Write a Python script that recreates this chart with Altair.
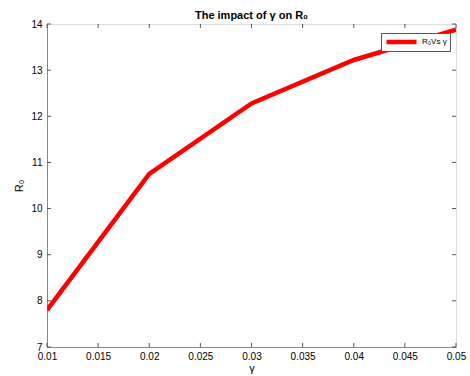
import altair as alt
import pandas as pd

gamma = [0.01, 0.02, 0.03, 0.04, 0.05]
r0 = [7.80, 10.75, 12.28, 13.22, 13.88]
series_name = "R₀Vs γ"
x_ticks = [0.01, 0.015, 0.02, 0.025, 0.03, 0.035, 0.04, 0.045, 0.05]
y_ticks = [7, 8, 9, 10, 11, 12, 13, 14]

W, H = 409, 323
AX = "#555555"
FONT = "Liberation Sans"

df = pd.DataFrame({"gamma": gamma, "r0": r0, "series": [series_name] * len(gamma)})
xt = pd.DataFrame({"v": x_ticks})
yt = pd.DataFrame({"v": y_ticks})

xs = alt.Scale(domain=[0.01, 0.05], nice=False, zero=False)
ys = alt.Scale(domain=[7, 14], nice=False, zero=False)

line = alt.Chart(df).mark_line(strokeWidth=4.5, clip=True).encode(
    x=alt.X("gamma:Q", scale=xs, title="γ",
            axis=alt.Axis(values=x_ticks, format="~g", tickSize=0, grid=False,
                          labelFlush=False, labelOverlap=False, labelBound=False,
                          labelPadding=4, titlePadding=1, titleFontWeight="normal",
                          titleFontSize=11, labelFontSize=10)),
    y=alt.Y("r0:Q", scale=ys, title="R₀",
            axis=alt.Axis(values=y_ticks, format="d", tickSize=0, grid=False,
                          labelFlush=False, labelOverlap=False, labelBound=False,
                          labelPadding=5, titlePadding=6, titleFontWeight="normal",
                          titleFontSize=11, labelFontSize=10)),
    color=alt.Color("series:N", scale=alt.Scale(range=["#ff0000"]),
                    legend=alt.Legend(title=None, orient="none", legendX=334, legendY=9,
                                      symbolType="stroke", symbolSize=900,
                                      symbolStrokeWidth=4.5, strokeColor=AX,
                                      fillColor="white", padding=3, clipHeight=12,
                                      labelFontSize=8, labelFont=FONT,
                                      labelOffset=3)),
)

bt = alt.Chart(xt).mark_rule(color=AX, strokeWidth=1).encode(
    x=alt.X("v:Q", scale=xs), y=alt.value(H), y2=alt.value(H - 4))
tt = alt.Chart(xt).mark_rule(color=AX, strokeWidth=1).encode(
    x=alt.X("v:Q", scale=xs), y=alt.value(0), y2=alt.value(4))
lt = alt.Chart(yt).mark_rule(color=AX, strokeWidth=1).encode(
    y=alt.Y("v:Q", scale=ys), x=alt.value(0), x2=alt.value(4))
rt = alt.Chart(yt).mark_rule(color=AX, strokeWidth=1).encode(
    y=alt.Y("v:Q", scale=ys), x=alt.value(W), x2=alt.value(W - 4))

chart = alt.layer(bt, tt, lt, rt, line).properties(
    width=W, height=H,
    title=alt.Title("The impact of γ  on R₀", fontSize=11, fontWeight="bold",
                    font=FONT, offset=0, dy=2, color="black"),
    autosize=alt.AutoSizeParams(type="none"),
    padding={"left": 47, "top": 24, "right": 14, "bottom": 29},
).configure_view(stroke=AX, strokeWidth=1).configure_axis(
    domainColor=AX, labelColor="#333333", titleColor="#333333",
    labelFont=FONT, titleFont=FONT
).configure(background="white")

chart.save("out.html", embed_options={"renderer": "svg", "actions": False})
